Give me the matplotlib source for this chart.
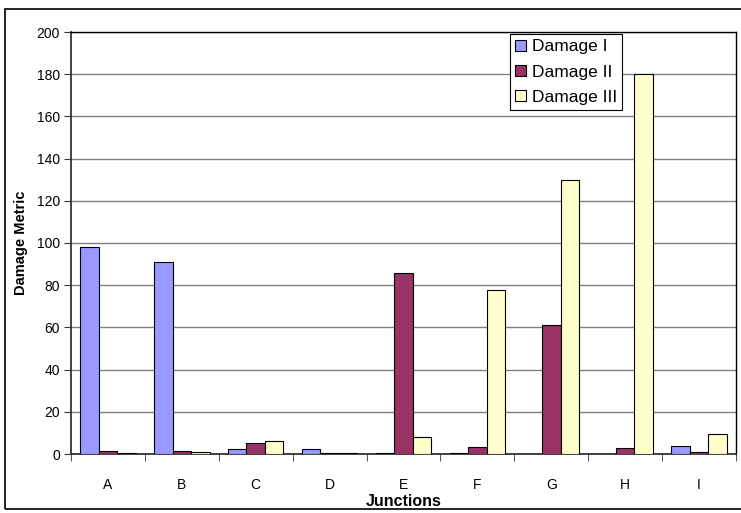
import numpy as np
import matplotlib.pyplot as plt
from matplotlib.patches import Rectangle

plt.rcParams['font.family'] = ['Liberation Sans', 'DejaVu Sans']

junctions = ['A', 'B', 'C', 'D', 'E', 'F', 'G', 'H', 'I']
damage_1 = [98, 91, 2.4, 2.4, 0.4, 0.3, 0, 0, 3.9]
damage_2 = [1.2, 1.3, 5.1, 0.5, 86, 3.5, 61, 2.8, 0.8]
damage_3 = [0.4, 0.9, 6.0, 0.5, 8.2, 77.7, 130, 180, 9.5]
series_names = ['Damage I', 'Damage II', 'Damage III']
colors = ['#9999FF', '#993366', '#FFFFCC']

fig = plt.figure(figsize=(7.41, 5.13), dpi=100)
ax = fig.add_axes([71 / 741, 59 / 513, 665 / 741, 422 / 513])

# outer chart border
fig.patches.append(Rectangle((5 / 741, 4 / 513), 740 / 741, 500 / 513,
                             transform=fig.transFigure, fill=False,
                             edgecolor='black', linewidth=1.2))

x = np.arange(len(junctions))
w = 0.25
for i, (vals, name, c) in enumerate(zip([damage_1, damage_2, damage_3], series_names, colors)):
    ax.bar(x + (i - 1) * w, vals, w, color=c, edgecolor='black', linewidth=0.8,
           label=name, zorder=3)

ax.set_xlim(-0.5, len(junctions) - 0.5)
ax.set_ylim(0, 200)
ax.set_yticks(range(0, 201, 20))
ax.set_xticks(x)
ax.set_xticklabels(junctions)
ax.set_xticks(np.arange(-0.5, len(junctions)), minor=True)
ax.tick_params(axis='x', which='major', length=0, pad=17, labelsize=10)
ax.tick_params(axis='x', which='minor', length=5, direction='out', color='#333333')
ax.tick_params(axis='y', length=5, direction='out', color='#333333', labelsize=10, pad=3)

ax.yaxis.grid(True, color='#808080', linewidth=1.0, zorder=0)
ax.set_axisbelow(True)
for s in ['top', 'right']:
    ax.spines[s].set_color('black')
    ax.spines[s].set_linewidth(1.0)
for s in ['left', 'bottom']:
    ax.spines[s].set_color('#333333')
    ax.spines[s].set_linewidth(1.3)

ax.set_xlabel('Junctions', fontsize=11.5, fontweight='bold', labelpad=2)
ax.set_ylabel('Damage Metric', fontsize=10.5, fontweight='bold', labelpad=6)

leg = ax.legend(loc='upper left', bbox_to_anchor=(439 / 665, 1 - 2 / 422), fontsize=12.5,
                frameon=True, fancybox=False, edgecolor='black', framealpha=1,
                handlelength=0.6, handleheight=0.6, handletextpad=0.35,
                labelspacing=0.6, borderpad=0.3, borderaxespad=0)
leg.get_frame().set_linewidth(0.8)

fig.savefig('out.png', dpi=100)
